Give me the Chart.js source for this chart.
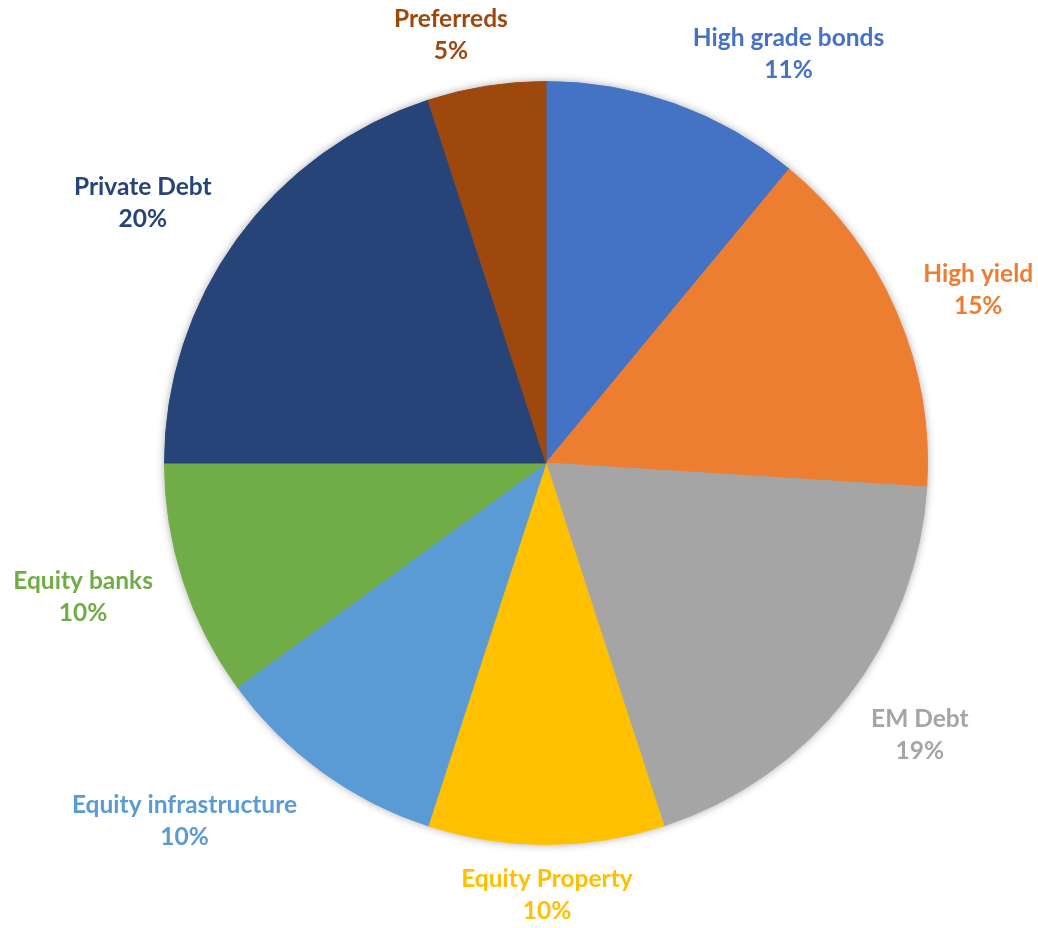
<!DOCTYPE html>
<html lang="en">
<head>
    <meta charset="UTF-8">
    <title>Allocation</title>
    <script src="https://cdn.jsdelivr.net/npm/chart.js"></script>
    <style>
        html, body {
            margin: 0;
            padding: 0;
            background: #ffffff;
        }
        .wrap {
            width: 1038px;
            height: 928px;
        }
    </style>
</head>
<body>
    <div class="wrap">
        <canvas id="pie" width="1038" height="928"></canvas>
    </div>

    <script>
        // portfolio split, in percent
        var categories = ['High grade bonds', 'High yield', 'EM Debt', 'Equity Property',
                          'Equity infrastructure', 'Equity banks', 'Private Debt', 'Preferreds'];
        var shares = [11, 15, 19, 10, 10, 10, 20, 5];
        var sliceColors = ['#4472C4', '#ED7D31', '#A5A5A5', '#FFC000',
                           '#5B9BD5', '#70AD47', '#264478', '#9E480E'];

        // soft shadow under the whole pie
        var pieShadow = {
            id: 'pieShadow',
            beforeDatasetsDraw: function(chart) {
                var arc = chart.getDatasetMeta(0).data[0];
                var ctx = chart.ctx;
                ctx.save();
                ctx.shadowColor = 'rgba(0,0,0,0.35)';
                ctx.shadowBlur = 9;
                ctx.fillStyle = '#ffffff';
                ctx.beginPath();
                ctx.arc(arc.x, arc.y, arc.outerRadius, 0, Math.PI * 2);
                ctx.fill();
                ctx.restore();
            }
        };

        // name + percent outside each slice
        var outsideLabels = {
            id: 'outsideLabels',
            afterDatasetsDraw: function(chart, args, opts) {
                var ctx = chart.ctx;
                var meta = chart.getDatasetMeta(0);
                var values = chart.data.datasets[0].data;
                ctx.save();
                ctx.font = opts.font;
                ctx.textAlign = 'center';
                ctx.textBaseline = 'middle';
                meta.data.forEach(function(arc, i) {
                    var mid = (arc.startAngle + arc.endAngle) / 2;
                    var dist = arc.outerRadius + opts.gap;
                    var nudge = opts.nudge[i];
                    var x = arc.x + Math.cos(mid) * dist + nudge[0];
                    var y = arc.y + Math.sin(mid) * dist + nudge[1];
                    ctx.fillStyle = sliceColors[i];
                    ctx.fillText(chart.data.labels[i], x, y - opts.lineGap / 2);
                    ctx.fillText(values[i] + '%', x, y + opts.lineGap / 2);
                });
                ctx.restore();
            }
        };

        var ctx = document.getElementById('pie').getContext('2d');
        var myChart = new Chart(ctx, {
            type: 'pie',
            data: {
                labels: categories,
                datasets: [{
                    data: shares,
                    backgroundColor: sliceColors,
                    borderColor: sliceColors,
                    borderWidth: 1
                }]
            },
            options: {
                responsive: false,
                animation: false,
                layout: {
                    padding: { top: 81, bottom: 83, left: 54, right: 0 }
                },
                plugins: {
                    legend: { display: false },
                    tooltip: { enabled: false },
                    outsideLabels: {
                        font: 'bold 24.5px Lato',
                        gap: 60,
                        lineGap: 32,
                        nudge: [[93, 6], [27, 2], [25, 1], [1, -9], [-102, 1], [-43, -2], [-46, 0], [-26, 8]]
                    }
                }
            },
            plugins: [pieShadow, outsideLabels]
        });
    </script>
</body>
</html>
